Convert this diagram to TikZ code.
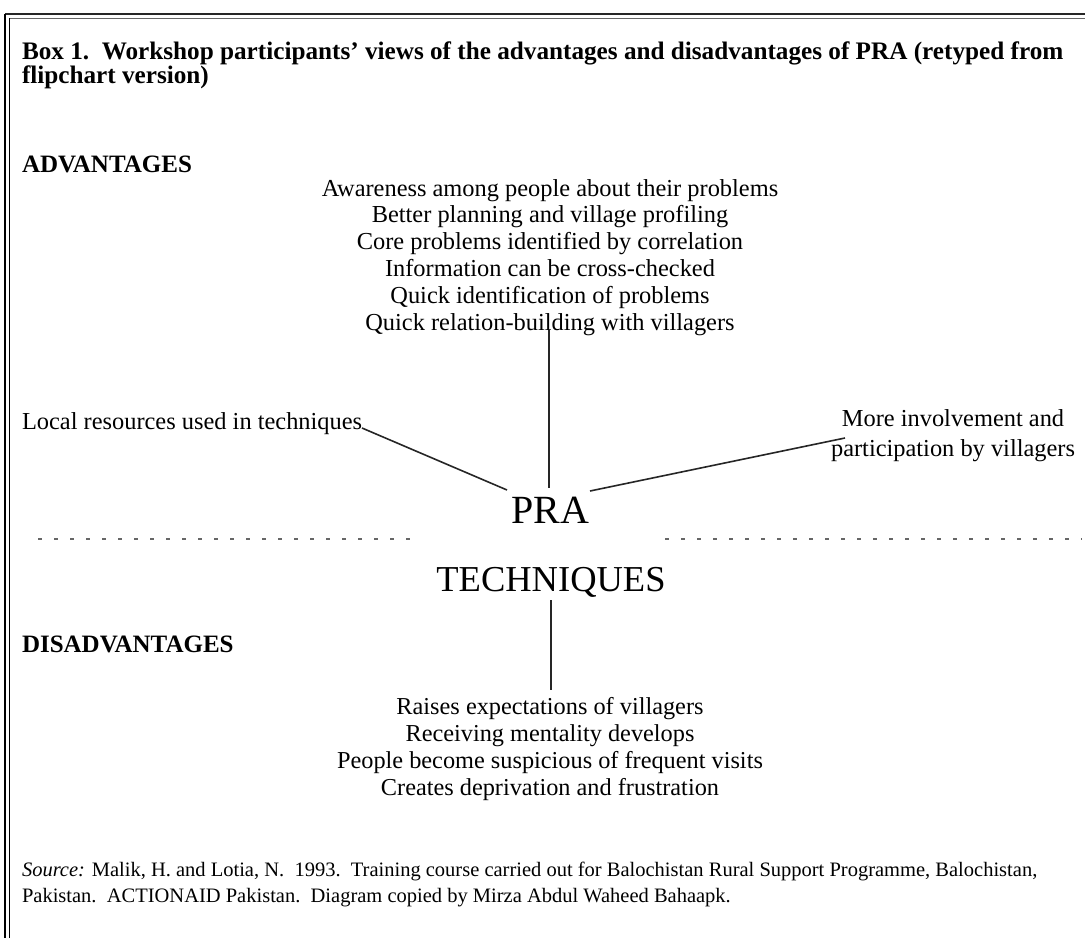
\documentclass[tikz,border=0pt]{standalone}
\usepackage{fontspec}
\setmainfont{Liberation Serif}
\begin{document}
\begin{tikzpicture}[x=1pt,y=-1pt,
  lbl/.style={inner sep=0pt,outer sep=0pt},
  item/.style={lbl,font=\fontsize{24.4}{26.8}\selectfont,align=center},
  head/.style={lbl,anchor=base west,font=\fontsize{25}{28}\selectfont\bfseries},
  big/.style={lbl,font=\fontsize{37}{40}\selectfont},
  link/.style={line width=1.6pt,black!85},
  sep/.style={line width=1.3pt,black!60,dash pattern=on 4pt off 12pt}]
\useasboundingbox (0,0) rectangle (1085,938);
% frame
\draw[line width=2.6pt,black!85] (5,14) -- (1085,14);
\draw[line width=0.7pt,black!60] (9,18) -- (1085,18);
\draw[line width=1.4pt] (5,14) -- (5,938);
\draw[line width=0.8pt] (9.5,18) -- (9.5,938);
% title
\node[lbl,anchor=base west,font=\fontsize{25.2}{23.5}\selectfont\bfseries,align=left] (title) at (22,83)
  {Box 1.\ \ Workshop participants' views of the advantages and disadvantages of PRA (retyped from\\flipchart version)};
\node[head] (adv) at (22,172) {ADVANTAGES};
\node[item,anchor=base] (advlist) at (550,330) {Awareness among people about their problems\\
Better planning and village profiling\\
Core problems identified by correlation\\
Information can be cross-checked\\
Quick identification of problems\\
Quick relation-building with villagers};
\node[item,anchor=base west] (local) at (22,429) {Local resources used in techniques};
\node[item,anchor=base east,font=\fontsize{24.4}{29.5}\selectfont] (more) at (1075,456) {More involvement and\\participation by villagers};
\node[big,font=\fontsize{40}{44}\selectfont] (pra) at (550,510) {PRA};
\node[big,font=\fontsize{36.5}{40}\selectfont] (tech) at (551,582) {TECHNIQUES};
\node[head] (dis) at (22,652) {DISADVANTAGES};
\node[item,anchor=base,font=\fontsize{24.3}{27}\selectfont] (dislist) at (550,795) {Raises expectations of villagers\\
Receiving mentality develops\\
People become suspicious of frequent visits\\
Creates deprivation and frustration};
% connectors
\coordinate (a1) at (549,330);
\coordinate (a2) at (549,488);
\coordinate (l1) at (362,428);
\coordinate (l2) at (507,490);
\coordinate (r1) at (845,438);
\coordinate (r2) at (590,491);
\draw[link] (a1) -- (a2);
\draw[link] (l1) -- (l2);
\draw[link] (r1) -- (r2);
\coordinate (t1) at (551,600);
\coordinate (t2) at (551,690);
\draw[link] (t1) -- (t2);
% separators
\coordinate (s1) at (38,539);
\coordinate (s2) at (420,539);
\coordinate (s3) at (665,539);
\coordinate (s4) at (1082,539);
\draw[sep] (s1) -- (s2);
\draw[sep] (s3) -- (s4);
% source
\node[lbl,anchor=base west,font=\fontsize{20.5}{26}\selectfont,align=left] (src) at (22,902)
  {\textit{Source:} Malik, H. and Lotia, N.\ \ 1993.\ \ Training course carried out for Balochistan Rural Support Programme, Balochistan,\\
Pakistan.\ \ ACTIONAID Pakistan.\ \ Diagram copied by Mirza Abdul Waheed Bahaapk.};
\end{tikzpicture}
\end{document}
